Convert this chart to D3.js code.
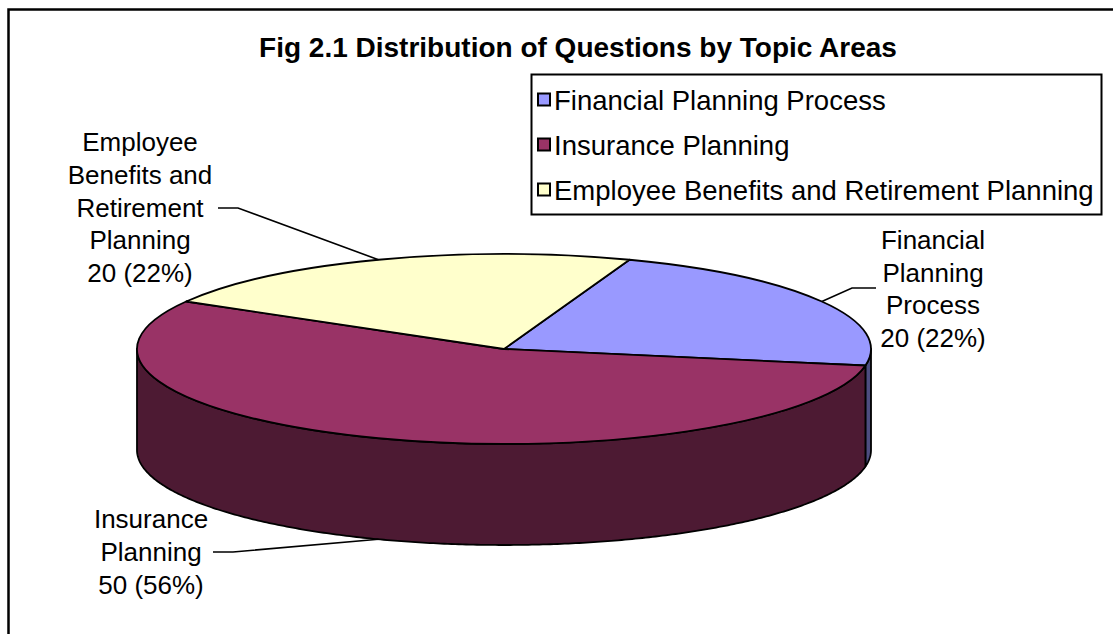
<!DOCTYPE html>
<html lang="en">
<head>
    <meta charset="UTF-8">
    <script src="https://d3js.org/d3.v7.min.js"></script>
    <title>Fig 2.1 Distribution of Questions by Topic Areas</title>
    <style>
        body { margin: 0; background: #fff; }
        text { font-family: "Liberation Sans", Arial, sans-serif; fill: #000; }
    </style>
</head>
<body>
    <div id="chart"></div>
    <script>
        // data
        const categories = ["Financial Planning Process", "Insurance Planning", "Employee Benefits and Retirement Planning"];
        const counts = [20, 50, 20];
        const labelLines = [
            ["Financial", "Planning", "Process"],
            ["Insurance", "Planning"],
            ["Employee", "Benefits and", "Retirement", "Planning"]
        ];
        const title = "Fig 2.1 Distribution of Questions by Topic Areas";

        const width = 1113, height = 634;
        const cx = 504, cy = 349, rx = 367, ry = 95, depth = 101;
        const topColors = ["#9999FF", "#993366", "#FFFFCC"];
        const sideColors = ["#4D4D80", "#4D1A33", "#80806A"];

        // label placement (center of text block, leader elbow, leader end)
        const labelLayout = [
            { x: 933, y: 289, elbow: [852, 288], end: [876, 288] },
            { x: 151, y: 552, elbow: [233, 552], end: [213, 552] },
            { x: 140, y: 207.5, elbow: [238, 208], end: [218, 208] }
        ];

        const svg = d3.select("#chart").append("svg")
            .attr("width", width)
            .attr("height", height);

        // outer frame (runs past the right and bottom edges)
        svg.append("rect")
            .attr("x", 8.5).attr("y", 9.5)
            .attr("width", width + 20).attr("height", height + 20)
            .attr("fill", "none").attr("stroke", "#000").attr("stroke-width", 2.5);

        svg.append("text")
            .attr("x", 578).attr("y", 57)
            .attr("text-anchor", "middle")
            .attr("font-size", "28px")
            .attr("font-weight", "bold")
            .text(title);

        const total = d3.sum(counts);
        const start = 20 * Math.PI / 180;
        const pie = d3.pie().sort(null).startAngle(start).endAngle(start + 2 * Math.PI);
        const arcs = pie(counts);

        const color = d3.scaleOrdinal().domain(categories).range(topColors);
        const sideColor = d3.scaleOrdinal().domain(categories).range(sideColors);

        const pt = (a, dy = 0) => [cx + rx * Math.sin(a), cy - ry * Math.cos(a) + dy];

        // visible wall: angles between 90 and 270 degrees
        function wallPath(a0, a1) {
            let segs = [];
            [0, -2 * Math.PI].forEach(off => {
                const lo = Math.max(a0 + off, Math.PI / 2), hi = Math.min(a1 + off, 3 * Math.PI / 2);
                if (hi > lo) segs.push([lo, hi]);
            });
            return segs.map(([lo, hi]) => {
                const steps = d3.range(lo, hi, 0.01).concat([hi]);
                const topPts = steps.map(a => pt(a));
                const botPts = steps.slice().reverse().map(a => pt(a, depth));
                return d3.line()(topPts.concat(botPts)) + "Z";
            }).join("");
        }

        svg.append("g").selectAll("path")
            .data(arcs)
            .enter()
            .append("path")
            .attr("d", d => wallPath(d.startAngle, d.endAngle))
            .attr("fill", (d, i) => sideColor(categories[i]))
            .attr("stroke", "#000")
            .attr("stroke-width", 1.8)
            .attr("stroke-linejoin", "round");

        function topPath(d) {
            const p0 = pt(d.startAngle), p1 = pt(d.endAngle);
            const large = d.endAngle - d.startAngle > Math.PI ? 1 : 0;
            return `M${cx},${cy}L${p0[0]},${p0[1]}A${rx},${ry} 0 ${large} 1 ${p1[0]},${p1[1]}Z`;
        }

        svg.append("g").selectAll("path")
            .data(arcs)
            .enter()
            .append("path")
            .attr("d", topPath)
            .attr("fill", (d, i) => color(categories[i]))
            .attr("stroke", "#000")
            .attr("stroke-width", 1.8)
            .attr("stroke-linejoin", "round");

        // leader lines and labels
        const lineH = 32.8;
        arcs.forEach((d, i) => {
            const m = (d.startAngle + d.endAngle) / 2;
            const anchor = pt(m, Math.cos(m) < 0 ? depth : 0);
            const lay = labelLayout[i];
            svg.append("path")
                .attr("d", d3.line()([anchor, lay.elbow, lay.end]))
                .attr("fill", "none")
                .attr("stroke", "#000")
                .attr("stroke-width", 1.6);

            const pct = Math.round(counts[i] / total * 100);
            const lines = labelLines[i].concat([`${counts[i]} (${pct}%)`]);
            const y0 = lay.y - (lines.length - 1) / 2 * lineH + 9;
            const t = svg.append("text")
                .attr("text-anchor", "middle")
                .attr("font-size", "26px");
            lines.forEach((s, k) => {
                t.append("tspan").attr("x", lay.x).attr("y", y0 + k * lineH).text(s);
            });
        });

        // legend
        const legend = svg.append("g");
        legend.append("rect")
            .attr("x", 531.5).attr("y", 74.5)
            .attr("width", 570).attr("height", 140)
            .attr("fill", "#fff")
            .attr("stroke", "#000")
            .attr("stroke-width", 2);

        const rows = legend.selectAll("g.row")
            .data(categories)
            .enter()
            .append("g")
            .attr("transform", (d, i) => `translate(0,${100 + i * 45})`);

        rows.append("rect")
            .attr("x", 538).attr("y", -6.5)
            .attr("width", 12).attr("height", 12)
            .attr("fill", d => color(d))
            .attr("stroke", "#000")
            .attr("stroke-width", 2);

        rows.append("text")
            .attr("x", 554).attr("y", 9.5)
            .attr("font-size", "27.5px")
            .text(d => d);
    </script>
</body>
</html>
